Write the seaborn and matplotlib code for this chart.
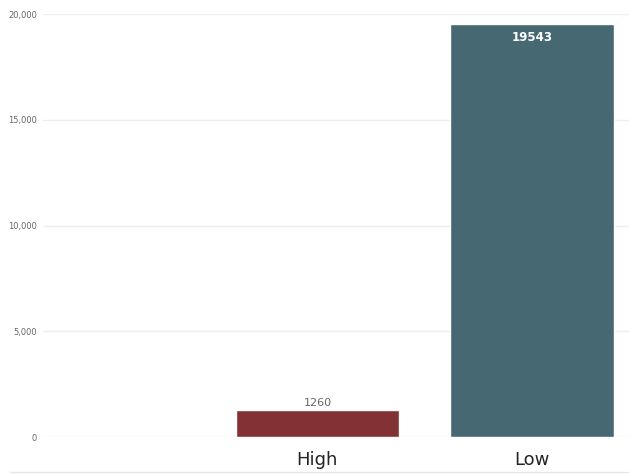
import matplotlib
matplotlib.use("Agg")
import matplotlib.pyplot as plt
import seaborn as sns
import pandas as pd
from matplotlib.lines import Line2D

categorias = ["", "High", "Low"]
valores = [0, 1260, 19543]
cores = ["#ffffff", "#823234", "#466872"]

sns.set_theme(style="white")
plt.rcParams["font.family"] = ["DejaVu Sans"]

df = pd.DataFrame({"Categoria": categorias, "Valor": valores})

fig = plt.figure(figsize=(6.29, 4.74), dpi=100)
ax = fig.add_axes([0.068, 0.078, 0.932, 0.892])

sns.barplot(data=df, x="Categoria", y="Valor", order=categorias, hue="Categoria",
            palette=dict(zip(categorias, cores)), legend=False, width=0.76,
            saturation=1, ax=ax, zorder=3)

ax.set_xlim(-0.28, 2.452)
ax.set_ylim(0, 20000)
ax.set_yticks([0, 5000, 10000, 15000, 20000])
ax.set_yticklabels([f"{v:,}" for v in [0, 5000, 10000, 15000, 20000]], fontsize=6, color="#666666")
ax.yaxis.grid(True, color="#eeeeee", linewidth=1, zorder=0)
ax.tick_params(axis="y", length=0, pad=4)
ax.tick_params(axis="x", length=0, labelsize=13, colors="#252423", pad=10)
ax.set_xlabel("")
ax.set_ylabel("")
for s in ax.spines.values():
    s.set_visible(False)

# rótulos de valor
ax.text(1, valores[1] + 130, str(valores[1]), ha="center", va="bottom", fontsize=8, color="#666666")
ax.text(2, valores[2] - 350, str(valores[2]), ha="center", va="top", fontsize=8.5, color="white", fontweight="bold")

fig.add_artist(Line2D([10 / 629, 1], [2 / 474, 2 / 474], color="#e6e6e6", linewidth=1))

plt.savefig("out.png", dpi=100)
